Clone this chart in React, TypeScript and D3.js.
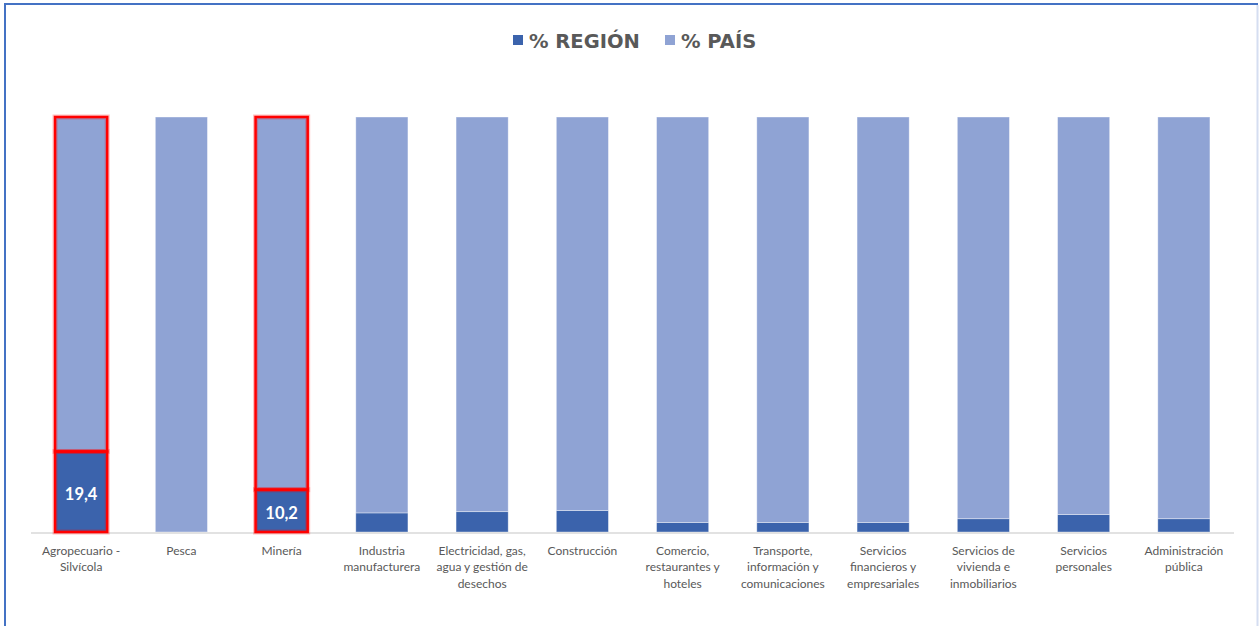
import { useEffect, useRef } from "react"
import * as d3 from "d3"

const categories = [
  "Agropecuario - Silvícola",
  "Pesca",
  "Minería",
  "Industria manufacturera",
  "Electricidad, gas, agua y gestión de desechos",
  "Construcción",
  "Comercio, restaurantes y hoteles",
  "Transporte, información y comunicaciones",
  "Servicios financieros y empresariales",
  "Servicios de vivienda e inmobiliarios",
  "Servicios personales",
  "Administración pública",
]

// wrapped tick labels, as they break in the picture
const categoryLines = [
  ["Agropecuario -", "Silvícola"],
  ["Pesca"],
  ["Minería"],
  ["Industria", "manufacturera"],
  ["Electricidad, gas,", "agua y gestión de", "desechos"],
  ["Construcción"],
  ["Comercio,", "restaurantes y", "hoteles"],
  ["Transporte,", "información y", "comunicaciones"],
  ["Servicios", "financieros y", "empresariales"],
  ["Servicios de", "vivienda e", "inmobiliarios"],
  ["Servicios", "personales"],
  ["Administración", "pública"],
]

const regionPct = [19.4, 0, 10.2, 4.6, 4.9, 5.2, 2.3, 2.3, 2.3, 3.2, 4.2, 3.2]
const paisPct = regionPct.map((v) => 100 - v)

const highlighted = ["Agropecuario - Silvícola", "Minería"]
const labelled = ["Agropecuario - Silvícola", "Minería"]

const seriesNames = ["% REGIÓN", "% PAÍS"]
const seriesColors = ["#3B63AC", "#8FA3D4"]

const App = () => {
  const svgRef = useRef<SVGSVGElement | null>(null)

  useEffect(() => {
    const width = 1259
    const height = 626
    const margin = { top: 117, right: 25, bottom: 94, left: 31 }

    const svg = d3.select(svgRef.current)
    svg.selectAll("*").remove()
    svg.attr("width", width).attr("height", height)

    // frame
    svg
      .append("path")
      .attr("d", `M5,${height + 5} L5,4 L${width - 1},4`)
      .attr("fill", "none")
      .attr("stroke", "#4472C4")
      .attr("stroke-width", 2)
    svg
      .append("line")
      .attr("x1", width - 1.5)
      .attr("x2", width - 1.5)
      .attr("y1", 5)
      .attr("y2", height)
      .attr("stroke", "#D5DEF1")
      .attr("stroke-width", 2)

    const xScale = d3
      .scaleBand()
      .domain(categories)
      .range([margin.left, width - margin.right])
      .paddingInner(0.48)
      .paddingOuter(0.24)

    const yScale = d3
      .scaleLinear()
      .domain([0, 100])
      .range([height - margin.bottom, margin.top])

    const rows = categories.map((c, i) => ({
      category: c,
      region: regionPct[i],
      pais: paisPct[i],
    }))

    const stack = d3.stack<any>().keys(["region", "pais"])(rows)

    const layers = svg
      .selectAll(".layer")
      .data(stack)
      .enter()
      .append("g")
      .attr("class", "layer")
      .attr("fill", (_, i) => seriesColors[i])

    layers
      .selectAll("rect")
      .data((d) => d.map((p) => ({ p, key: d.key })))
      .enter()
      .append("rect")
      .attr("x", (d) => xScale(d.p.data.category) || 0)
      .attr("y", (d) => yScale(d.p[1]))
      .attr("width", xScale.bandwidth())
      .attr("height", (d) => Math.max(0, yScale(d.p[0]) - yScale(d.p[1])))
      .attr("stroke", "#ffffff")
      .attr("stroke-opacity", 0.5)
      .attr("stroke-width", 0.75)

    // x axis line
    svg
      .append("line")
      .attr("x1", margin.left)
      .attr("x2", width - margin.right)
      .attr("y1", yScale(0) + 1)
      .attr("y2", yScale(0) + 1)
      .attr("stroke", "#D9D9D9")
      .attr("stroke-width", 1.5)

    // red outlines on highlighted bars
    stack.forEach((layer) => {
      layer
        .filter((p) => highlighted.includes(p.data.category))
        .forEach((p) => {
          const x = xScale(p.data.category) || 0
          const rect = [x, yScale(p[1]), xScale.bandwidth(), yScale(p[0]) - yScale(p[1])]
          svg
            .append("rect")
            .attr("x", rect[0])
            .attr("y", rect[1])
            .attr("width", rect[2])
            .attr("height", rect[3])
            .attr("fill", "none")
            .attr("stroke", "#FF0000")
            .attr("stroke-opacity", 0.25)
            .attr("stroke-width", 5)
          svg
            .append("rect")
            .attr("x", rect[0])
            .attr("y", rect[1])
            .attr("width", rect[2])
            .attr("height", rect[3])
            .attr("fill", "none")
            .attr("stroke", "#FF0000")
            .attr("stroke-width", 2.5)
        })
    })

    // data labels
    svg
      .selectAll(".value-label")
      .data(rows.filter((r) => labelled.includes(r.category)))
      .enter()
      .append("text")
      .attr("class", "value-label")
      .attr("x", (d) => (xScale(d.category) || 0) + xScale.bandwidth() / 2)
      .attr("y", (d) => yScale(d.region / 2) + 2)
      .attr("dy", "0.35em")
      .attr("text-anchor", "middle")
      .attr("fill", "#ffffff")
      .attr("font-family", "Lato, 'Open Sans', sans-serif")
      .attr("font-weight", "bold")
      .attr("font-size", "16.5px")
      .text((d) => d.region.toFixed(1).replace(".", ","))

    // category labels
    const ticks = svg
      .selectAll(".tick-label")
      .data(categories)
      .enter()
      .append("text")
      .attr("class", "tick-label")
      .attr("text-anchor", "middle")
      .attr("fill", "#595959")
      .attr("font-family", "Lato, 'Open Sans', sans-serif")
      .attr("font-size", "12px")
      .attr("transform", (d) => `translate(${(xScale(d) || 0) + xScale.bandwidth() / 2},${yScale(0) + 23})`)

    ticks
      .selectAll("tspan")
      .data((_, i) => categoryLines[i])
      .enter()
      .append("tspan")
      .attr("x", 0)
      .attr("y", (_, j) => j * 16.3)
      .text((d) => d)

    // legend
    const legendX = [513, 665]
    const legend = svg
      .selectAll(".legend")
      .data(seriesNames)
      .enter()
      .append("g")
      .attr("class", "legend")
      .attr("transform", (_, i) => `translate(${legendX[i]},35)`)

    legend
      .append("rect")
      .attr("width", 10)
      .attr("height", 10)
      .attr("fill", (_, i) => seriesColors[i])

    legend
      .append("text")
      .attr("x", 16)
      .attr("y", 6)
      .attr("dy", "0.36em")
      .attr("fill", "#595959")
      .attr("font-family", "Verdana, 'DejaVu Sans', sans-serif")
      .attr("font-weight", "bold")
      .attr("font-size", "19.5px")
      .text((d) => d)
  }, [])

  return (
    <svg
      ref={svgRef}
      style={{ position: "absolute", left: 0, top: 0, display: "block", background: "#ffffff" }}
    ></svg>
  )
}

export default App
